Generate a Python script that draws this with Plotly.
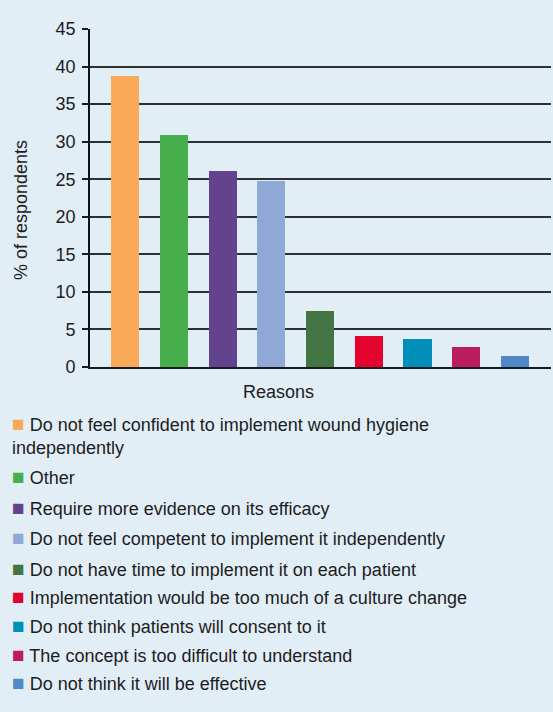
import plotly.graph_objects as go

categories = [
    "Do not feel confident to implement wound hygiene<br>independently",
    "Other",
    "Require more evidence on its efficacy",
    "Do not feel competent to implement it independently",
    "Do not have time to implement it on each patient",
    "Implementation would be too much of a culture change",
    "Do not think patients will consent to it",
    "The concept is too difficult to understand",
    "Do not think it will be effective",
]
values = [38.8, 30.9, 26.1, 24.7, 7.5, 4.1, 3.7, 2.7, 1.5]
colors = ["#F8AA58", "#47AE4C", "#63428E", "#8FA8D6", "#437443",
          "#E4032E", "#008FB8", "#BA1C5D", "#5287C8"]
y_ticks = [0, 5, 10, 15, 20, 25, 30, 35, 40, 45]

W, H = 553, 712
ML, MR, MT, MB = 90, 2, 29, 345
PW, PH = W - ML - MR, H - MT - MB
BG = "#E1EEF6"
FONT = "Liberation Sans, Arial, Helvetica, sans-serif"
TXT = "#1E1C1D"
FS = 18


def px_x(p):
    return (p - ML) / PW


def px_y(p):
    return (H - MB - p) / PH


fig = go.Figure(
    go.Bar(
        x=list(range(len(categories))),
        y=values,
        marker=dict(color=colors, line=dict(width=0)),
        width=0.576,
        hoverinfo="y",
    )
)

legend_y = [435, 476.7, 507.7, 537.7, 568.3, 596.7, 625.7, 654, 682.7]
annotations = []
for cat, col, ly in zip(categories, colors, legend_y):
    annotations.append(dict(
        text=f'<span style="color:{col};font-size:21px">■</span> {cat}',
        xref="paper", yref="paper",
        x=px_x(10), y=px_y(ly),
        xanchor="left", yanchor="middle", align="left",
        showarrow=False,
        font=dict(family=FONT, size=FS, color=TXT),
    ))
annotations.append(dict(
    text="% of respondents", textangle=-90,
    xref="paper", yref="paper", x=px_x(21), y=px_y(210),
    xanchor="center", yanchor="middle", showarrow=False,
    font=dict(family=FONT, size=FS, color=TXT),
))
annotations.append(dict(
    text="Reasons",
    xref="paper", yref="paper", x=px_x(278), y=px_y(392),
    xanchor="center", yanchor="middle", showarrow=False,
    font=dict(family=FONT, size=FS, color=TXT),
))

fig.update_layout(
    width=W, height=H,
    margin=dict(l=ML, r=MR, t=MT, b=MB, pad=0),
    paper_bgcolor=BG, plot_bgcolor=BG,
    showlegend=False,
    font=dict(family=FONT, size=FS, color=TXT),
    annotations=annotations,
    bargap=0,
)
fig.update_xaxes(
    range=[-0.72, 8.74], showticklabels=False, ticks="",
    showgrid=False, zeroline=False,
    showline=True, linecolor="#1a1a1a", linewidth=2,
)
fig.update_yaxes(
    range=[0, 45], tickvals=y_ticks, ticks="outside", ticklen=6,
    tickwidth=1.8, tickcolor="#1a1a1a", ticklabelstandoff=3,
    showgrid=True, gridcolor="#2E3134", gridwidth=1.8,
    zeroline=False, showline=True, linecolor="#111111", linewidth=1.6,
    tickfont=dict(family=FONT, size=FS, color=TXT),
)

fig.write_html(
    "out.html",
    config={"displayModeBar": False},
    post_script=(
        "document.body.style.margin='0';"
        "document.body.style.padding='0';"
        "document.body.style.background='" + BG + "';"
        "document.body.style.overflow='hidden';"
    ),
)
